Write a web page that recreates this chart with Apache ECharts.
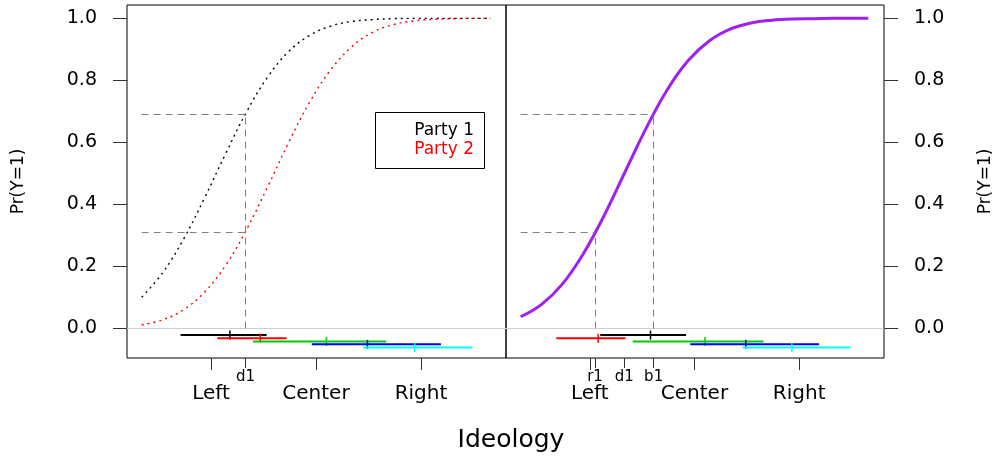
<!DOCTYPE html>
<html>
<head>
<meta charset="utf-8">
<title>Ideology</title>
<script src="https://cdn.jsdelivr.net/npm/echarts@6/dist/echarts.min.js"></script>
<style>
  html, body { margin: 0; padding: 0; background: #fff; }
  #chart { width: 1006px; height: 456px; }
</style>
</head>
<body>
<div id="chart"></div>
<script>
// probability curves
const curveX = [-1.66, -1.46, -1.26, -1.06, -0.86, -0.66, -0.46, -0.26, -0.06, 0.14, 0.34, 0.54, 0.74, 0.94, 1.14, 1.34, 1.54, 1.66]
const party1Prob = [0.101, 0.180, 0.289, 0.422, 0.564, 0.699, 0.811, 0.893, 0.945, 0.975, 0.990, 0.996, 0.999, 1.000, 1.000, 1.000, 1.000, 1.000]
const party2Prob = [0.012, 0.028, 0.061, 0.118, 0.204, 0.320, 0.457, 0.600, 0.730, 0.834, 0.908, 0.955, 0.980, 0.992, 0.997, 0.999, 1.000, 1.000]
const pooledProb = [0.038, 0.078, 0.144, 0.242, 0.366, 0.507, 0.647, 0.770, 0.864, 0.927, 0.965, 0.985, 0.994, 0.998, 0.999, 1.000, 1.000, 1.000]

// position intervals (low, point, high) and the height they sit at
const barLevel = [-0.021, -0.031, -0.042, -0.051, -0.061]
const leftLo = [-1.29, -0.94, -0.60, -0.04, 0.45]
const leftMid = [-0.82, -0.53, 0.10, 0.49, 0.94]
const leftHi = [-0.47, -0.28, 0.67, 1.19, 1.49]
const rightLo = [-0.90, -1.32, -0.59, -0.04, 0.46]
const rightMid = [-0.42, -0.92, 0.10, 0.49, 0.93]
const rightHi = [-0.08, -0.66, 0.66, 1.19, 1.49]

// axis ticks
const scaleTicks = [-1, 0, 1]
const scaleNames = ['Left', 'Center', 'Right']
const leftCuts = [-0.67]
const leftCutNames = ['d1']
const rightCuts = [-0.95, -0.67, -0.39]
const rightCutNames = ['r1', 'd1', 'b1']
const probTicks = [0, 0.2, 0.4, 0.6, 0.8, 1.0]
const guideLevels = [0.31, 0.69]

const barColors = ['#000000', '#ff0000', '#00cd00', '#0000ff', '#00ffff']
const font = 'DejaVu Sans'

const chart = echarts.init(document.getElementById('chart'))

function bottomAxes(gridIndex, cuts, cutNames) {
    const base = {
        type: 'value',
        gridIndex: gridIndex,
        position: 'bottom',
        min: -1.8,
        max: 1.81,
        axisLine: { show: false, onZero: false },
        splitLine: { show: false }
    }
    return [
        Object.assign({}, base, {
            axisTick: { customValues: scaleTicks, length: 12, lineStyle: { color: '#333' } },
            axisLabel: {
                customValues: scaleTicks,
                formatter: v => scaleNames[scaleTicks.indexOf(v)],
                margin: 26, fontSize: 20, fontFamily: font, color: '#000'
            }
        }),
        Object.assign({}, base, {
            axisTick: { customValues: cuts, length: 10, lineStyle: { color: '#333' } },
            axisLabel: {
                customValues: cuts,
                formatter: v => cutNames[cuts.indexOf(v)],
                margin: 12, fontSize: 15, fontFamily: font, color: '#000'
            }
        })
    ]
}

function probAxis(gridIndex, position, gap) {
    return {
        type: 'value',
        gridIndex: gridIndex,
        position: position,
        min: -0.095,
        max: 1.043,
        axisLine: { show: false, onZero: false },
        splitLine: { show: false },
        axisTick: { customValues: probTicks, length: 14, lineStyle: { color: '#333' } },
        axisLabel: {
            customValues: probTicks,
            formatter: v => v.toFixed(1),
            margin: 30, fontSize: 19, fontFamily: font, color: '#000'
        },
        name: 'Pr(Y=1)',
        nameLocation: 'middle',
        nameGap: gap,
        nameTextStyle: { fontSize: 17, fontFamily: font, color: '#000' }
    }
}

function intervalSeries(xAxisIndex, yAxisIndex, lo, mid, hi) {
    return lo.map((l, i) => ({
        type: 'custom',
        xAxisIndex: xAxisIndex,
        yAxisIndex: yAxisIndex,
        silent: true,
        itemStyle: { color: barColors[i] },
        encode: { x: [0, 1, 2], y: 3 },
        data: [[l, mid[i], hi[i], barLevel[i]]],
        renderItem(params, api) {
            const y = api.value(3)
            const a = api.coord([api.value(0), y])
            const b = api.coord([api.value(2), y])
            const m = api.coord([api.value(1), y])
            const color = api.visual('color')
            return {
                type: 'group',
                children: [
                    { type: 'line', shape: { x1: a[0], y1: a[1], x2: b[0], y2: b[1] }, style: { stroke: color, lineWidth: 2 } },
                    { type: 'line', shape: { x1: m[0], y1: m[1] - 4.5, x2: m[0], y2: m[1] + 4.5 }, style: { stroke: color, lineWidth: 1.5 } }
                ]
            }
        }
    }))
}

const guideStyle = { color: '#808080', type: [7, 5], width: 1 }
const zeroLine = { yAxis: 0, lineStyle: { color: '#d0d0d0', type: 'solid', width: 1 } }

function guides(pairs) {
    return {
        silent: true,
        symbol: 'none',
        animation: false,
        label: { show: false },
        lineStyle: guideStyle,
        data: pairs
    }
}

const start = curveX[0]
const leftGuides = [
    zeroLine,
    [{ coord: [start, guideLevels[1]] }, { coord: [leftCuts[0], guideLevels[1]] }],
    [{ coord: [start, guideLevels[0]] }, { coord: [leftCuts[0], guideLevels[0]] }],
    [{ coord: [leftCuts[0], 0] }, { coord: [leftCuts[0], guideLevels[1]] }]
]
const rightGuides = [
    zeroLine,
    [{ coord: [start, guideLevels[1]] }, { coord: [rightCuts[2], guideLevels[1]] }],
    [{ coord: [start, guideLevels[0]] }, { coord: [rightCuts[0], guideLevels[0]] }],
    [{ coord: [rightCuts[0], 0] }, { coord: [rightCuts[0], guideLevels[0]] }],
    [{ coord: [rightCuts[2], 0] }, { coord: [rightCuts[2], guideLevels[1]] }]
]

const pairUp = ys => curveX.map((x, i) => [x, ys[i]])

chart.setOption({
    animation: false,
    grid: [
        { left: 127, top: 5, width: 379, height: 353, show: true, borderColor: '#000', borderWidth: 1 },
        { left: 506, top: 5, width: 378, height: 353, show: true, borderColor: '#000', borderWidth: 1 }
    ],
    xAxis: bottomAxes(0, leftCuts, leftCutNames).concat(bottomAxes(1, rightCuts, rightCutNames)),
    yAxis: [probAxis(0, 'left', 100), probAxis(1, 'right', 93)],
    title: {
        text: 'Ideology',
        left: 506,
        textAlign: 'center',
        top: 423,
        textStyle: { fontSize: 25, fontWeight: 'normal', fontFamily: font, color: '#000' }
    },
    graphic: [
        { type: 'rect', left: 375, top: 112, shape: { width: 109, height: 56 }, style: { fill: '#fff', stroke: '#000', lineWidth: 1 } },
        { type: 'text', right: 1006 - 474, top: 122, style: { text: 'Party 1', fill: '#000', font: '17px "DejaVu Sans"' } },
        { type: 'text', right: 1006 - 474, top: 141, style: { text: 'Party 2', fill: '#ff0000', font: '17px "DejaVu Sans"' } }
    ],
    series: [
        {
            name: 'Party 1', type: 'line', xAxisIndex: 0, yAxisIndex: 0,
            data: pairUp(party1Prob), smooth: 0.4, showSymbol: false, silent: true,
            lineStyle: { color: '#000', width: 1.4, type: [2, 4] },
            markLine: guides(leftGuides)
        },
        {
            name: 'Party 2', type: 'line', xAxisIndex: 0, yAxisIndex: 0,
            data: pairUp(party2Prob), smooth: 0.4, showSymbol: false, silent: true,
            lineStyle: { color: '#ff0000', width: 1.4, type: [2, 4] }
        },
        {
            name: 'Pooled', type: 'line', xAxisIndex: 2, yAxisIndex: 1,
            data: pairUp(pooledProb), smooth: 0.4, showSymbol: false, silent: true,
            lineStyle: { color: '#a020f0', width: 3, type: 'solid' },
            markLine: guides(rightGuides)
        }
    ].concat(intervalSeries(0, 0, leftLo, leftMid, leftHi), intervalSeries(2, 1, rightLo, rightMid, rightHi))
})
</script>
</body>
</html>
